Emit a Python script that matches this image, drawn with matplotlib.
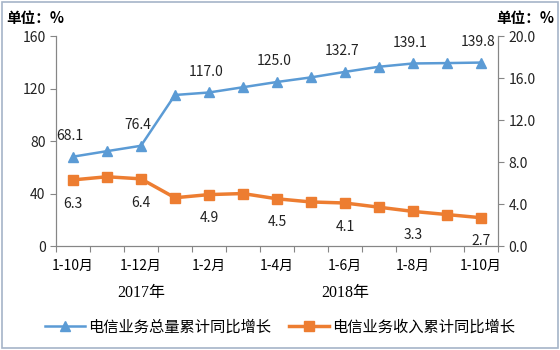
import matplotlib.pyplot as plt
from matplotlib.patches import FancyBboxPatch
import numpy as np

plt.rcParams['font.family'] = ['Noto Sans CJK SC', 'DejaVu Sans']

periods = ['1-10月', '1-11月', '1-12月', '1月', '1-2月', '1-3月', '1-4月',
           '1-5月', '1-6月', '1-7月', '1-8月', '1-9月', '1-10月']
volume_growth = [68.1, 72.3, 76.4, 115.1, 117.0, 121.0, 125.0,
                 128.5, 132.7, 136.6, 139.1, 139.4, 139.8]
revenue_growth = [6.3, 6.6, 6.4, 4.6, 4.9, 5.0, 4.5,
                  4.2, 4.1, 3.7, 3.3, 3.0, 2.7]
labeled = [0, 2, 4, 6, 8, 10, 12]
year_labels = [('2017年', 2), ('2018年', 8)]

blue = '#5b9bd5'
orange = '#ed7d31'
axis_color = '#868686'

fig = plt.figure(figsize=(5.6, 3.5), dpi=100)
ax = fig.add_axes([0.1, 0.297, 0.789, 0.6])
ax2 = ax.twinx()

x = np.arange(len(periods))
l1, = ax.plot(x, volume_growth, color=blue, lw=1.8, marker='^', ms=7,
              label='电信业务总量累计同比增长')
l2, = ax2.plot(x, revenue_growth, color=orange, lw=2.5, marker='s', ms=7.5,
               label='电信业务收入累计同比增长')

for i in labeled:
    ax.annotate(f'{volume_growth[i]:.1f}', (x[i], volume_growth[i]),
                xytext=(-2, 10), textcoords='offset points',
                ha='center', va='bottom', fontsize=10, color='#222222')
    ax2.annotate(f'{revenue_growth[i]:.1f}', (x[i], revenue_growth[i]),
                 xytext=(0, -12), textcoords='offset points',
                 ha='center', va='top', fontsize=10, color='#222222')

ax.set_xlim(-0.5, len(periods) - 0.5)
ax.set_ylim(0, 160)
ax.set_yticks(np.arange(0, 161, 40))
ax2.set_ylim(0, 20)
ax2.set_yticks(np.arange(0, 20.1, 4))
ax2.set_yticklabels([f'{v:.1f}' for v in np.arange(0, 20.1, 4)])

# category boundaries carry the tick marks, every other category is named
ax.set_xticks(np.arange(-0.5, len(periods), 1))
ax.set_xticklabels([])
ax.set_xticks(x[labeled], minor=True)
ax.set_xticklabels([periods[i] for i in labeled], minor=True)
ax.tick_params(axis='x', which='minor', length=0, pad=9, labelsize=10)
ax.tick_params(axis='x', which='major', length=4, color=axis_color)

for a in (ax, ax2):
    a.tick_params(axis='y', length=4, color=axis_color, labelsize=10,
                  labelcolor='#222222')
    a.spines['top'].set_visible(False)
    for side in ('left', 'right', 'bottom'):
        a.spines[side].set_color(axis_color)

for text, pos in year_labels:
    ax.text(pos, -0.225, text, transform=ax.get_xaxis_transform(),
            ha='center', va='center', fontsize=11.5,
            family=['Liberation Serif', 'Noto Sans CJK SC'])

fig.text(0.012, 0.95, '单位：%', fontsize=10.5, fontweight='bold', va='center')
fig.text(0.99, 0.95, '单位：%', fontsize=10.5, fontweight='bold', va='center',
         ha='right')

fig.legend(handles=[l1, l2], loc='center', bbox_to_anchor=(0.5, 0.065),
           ncol=2, frameon=False, fontsize=11, handlelength=2.6,
           columnspacing=1.2, handletextpad=0.2)

fig.patches.append(FancyBboxPatch((0.004, 0.006), 0.992, 0.988,
                                  boxstyle='square,pad=0', transform=fig.transFigure,
                                  fill=False, edgecolor='#a6b4c8', lw=1.2))

fig.savefig('out.png', dpi=100)
